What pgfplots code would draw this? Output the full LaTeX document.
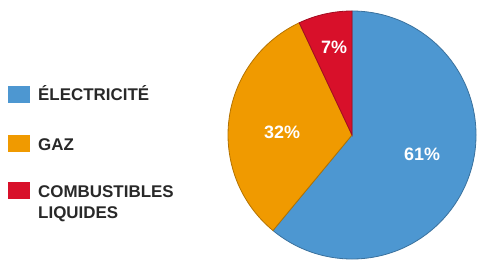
\documentclass[border=0pt]{standalone}
\usepackage{pgfplots}
\pgfplotsset{compat=1.18}
\usepackage{pgfplotstable}
\usepackage{fontspec}
\setmainfont{Liberation Sans}
\definecolor{pieblue}{RGB}{77,151,209}
\definecolor{pieorange}{RGB}{240,154,0}
\definecolor{piered}{RGB}{216,16,42}
\definecolor{legtext}{RGB}{40,40,40}
\pgfplotstableread{
label value
Electricite 61
Gaz 32
Combustibles 7
}\piedata
\pgfplotstablegetelem{0}{value}\of\piedata \let\va\pgfplotsretval
\pgfplotstablegetelem{1}{value}\of\piedata \let\vb\pgfplotsretval
\pgfplotstablegetelem{2}{value}\of\piedata \let\vc\pgfplotsretval
\pgfmathsetmacro\aA{90}
\pgfmathsetmacro\aB{\aA-3.6*\va}
\pgfmathsetmacro\aC{\aB-3.6*\vb}
\pgfmathsetmacro\aD{\aC-3.6*\vc}
\begin{document}
\begin{tikzpicture}
\begin{axis}[
  hide axis, scale only axis,
  x=1bp, y=1bp,
  xmin=0, xmax=478, ymin=0, ymax=263,
  enlargelimits=false, clip=false,
]
% pie slices
\fill[pieblue, draw=pieblue!75!black, line width=0.8bp] (axis cs:352,128) -- ++(\aA:124bp) arc[start angle=\aA, end angle=\aB, radius=124bp] -- cycle;
\fill[pieorange, draw=pieorange!75!black, line width=0.8bp] (axis cs:352,128) -- ++(\aB:124bp) arc[start angle=\aB, end angle=\aC, radius=124bp] -- cycle;
\fill[piered, draw=piered!75!black, line width=0.8bp] (axis cs:352,128) -- ++(\aC:124bp) arc[start angle=\aC, end angle=\aD, radius=124bp] -- cycle;
% slice labels
\node[text=white, font=\bfseries\fontsize{18}{18}\selectfont] at (axis cs:422,109) {\va\%};
\node[text=white, font=\bfseries\fontsize{18}{18}\selectfont] at (axis cs:282,131) {\vb\%};
\node[text=white, font=\bfseries\fontsize{18}{18}\selectfont] at (axis cs:334,216) {\vc\%};
% legend
\fill[pieblue] (axis cs:8,160) rectangle (axis cs:30,177);
\fill[pieorange] (axis cs:8,111) rectangle (axis cs:30,128);
\fill[piered] (axis cs:8,64) rectangle (axis cs:30,81);
\node[anchor=base west, inner sep=0, text=legtext, font=\bfseries\fontsize{17}{17}\selectfont] at (axis cs:38,163) {ÉLECTRICITÉ};
\node[anchor=base west, inner sep=0, text=legtext, font=\bfseries\fontsize{17}{17}\selectfont] at (axis cs:38,113) {GAZ};
\node[anchor=base west, inner sep=0, text=legtext, font=\bfseries\fontsize{17}{17}\selectfont] at (axis cs:38,66) {COMBUSTIBLES};
\node[anchor=base west, inner sep=0, text=legtext, font=\bfseries\fontsize{17}{17}\selectfont] at (axis cs:38,45) {LIQUIDES};
\end{axis}
\pgfresetboundingbox
\path[use as bounding box] (current axis.south west) rectangle (current axis.north east);
\end{tikzpicture}
\end{document}
